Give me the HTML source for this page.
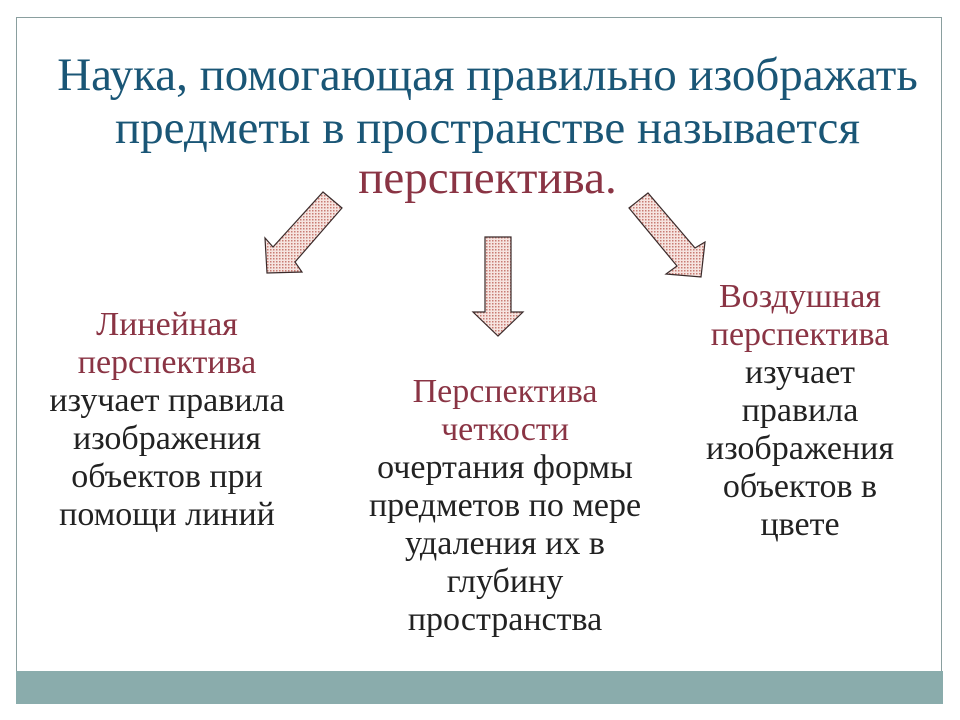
<!DOCTYPE html>
<html><head><meta charset="utf-8"><style>
body{margin:0;background:#fff;}
.wrap{position:relative;width:960px;height:720px;overflow:hidden;background:#fff;}
.frame{position:absolute;left:16px;top:17px;width:926px;height:686px;border:1px solid #8a9f9f;box-sizing:border-box;}
.bar{position:absolute;left:16px;top:671px;width:927px;height:33px;background:#8aacac;}
.t{position:absolute;font-family:"Liberation Serif",serif;text-align:center;white-space:nowrap;}
.title{font-size:47px;color:#1a5676;line-height:54px;}
.b{font-size:34px;line-height:38px;color:#222;}
.r{color:#8a3444;}
</style></head><body><div class="wrap">
<div class="frame"></div>
<div class="bar"></div>
<div class="t title" style="left:0;width:975px;top:48px;">Наука, помогающая правильно изображать</div>
<div class="t title" style="left:0;width:975px;top:101px;">предметы в пространстве называется</div>
<div class="t title r" style="left:0;width:975px;top:151px;">перспектива.</div>
<svg width="960" height="720" style="position:absolute;left:0;top:0">
<defs><pattern id="d" width="3" height="3" patternUnits="userSpaceOnUse"><rect width="3" height="3" fill="#f6e4e0"/><rect width="1.5" height="1.5" fill="#c87c74"/></pattern></defs>
<g fill="url(#d)" stroke="#3a2a2a" stroke-width="1.2">
<polygon points="323,192 342,208 295,262 302,272 267,273 265,238 273,247"/>
<polygon points="485,237 511,237 511,312 523,312 498,336 473,312 485,312"/>
<polygon points="629,208 648,193 695,248 705,242 701,277 666,274 677,266"/>
</g></svg>
<div class="t b" style="left:17px;width:300px;top:306px;"><span class="r">Линейная<br>перспектива</span><br>изучает правила<br>изображения<br>объектов при<br>помощи линий</div>
<div class="t b" style="left:355px;width:300px;top:373px;"><span class="r">Перспектива<br>четкости</span><br>очертания формы<br>предметов по мере<br>удаления их в<br>глубину<br>пространства</div>
<div class="t b" style="left:650px;width:300px;top:278px;"><span class="r">Воздушная<br>перспектива</span><br>изучает<br>правила<br>изображения<br>объектов в<br>цвете</div>
</div></body></html>
